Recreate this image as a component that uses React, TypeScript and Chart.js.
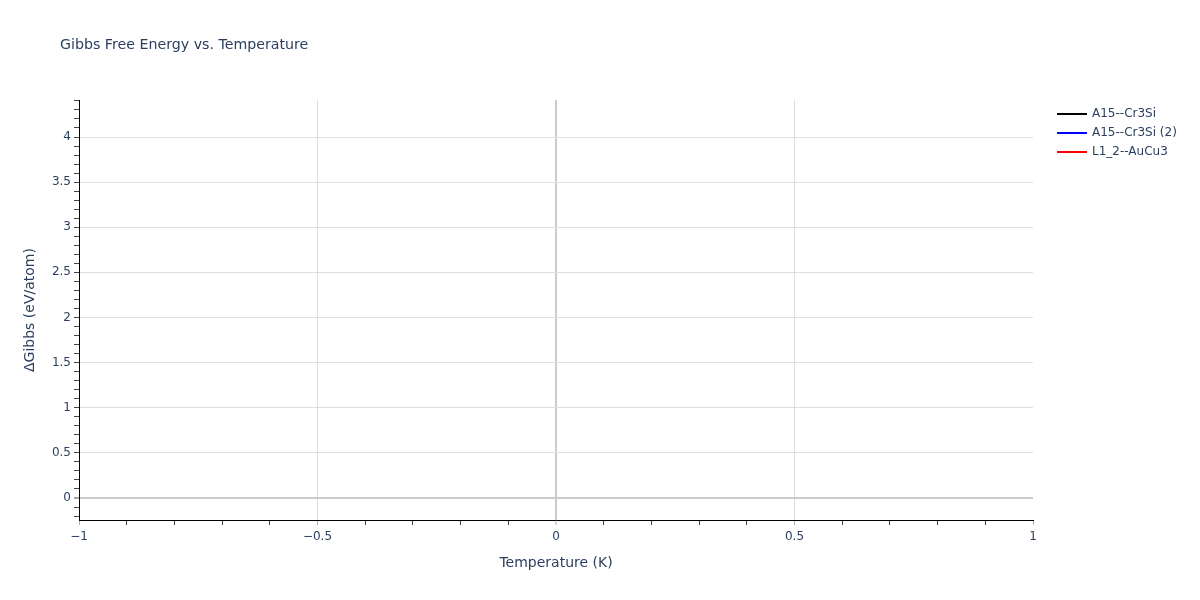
import React, { useEffect, useRef } from "react";
import { Chart, registerables } from "chart.js";

Chart.register(...registerables);

const seriesLabels = ["A15--Cr3Si", "A15--Cr3Si (2)", "L1_2--AuCu3"];
const seriesColors = ["#000000", "#0000ff", "#ff0000"];
const temperatures = [0];
const gibbsA15 = [0];
const gibbsA15b = [4.17];
const gibbsL12 = [0];

const xMin = -1;
const xMax = 1;
const yMin = -0.244;
const yMax = 4.41;

const FONT = '"DejaVu Sans", Verdana, sans-serif';
const TEXT = "#2a3f5f";

const isMajor = (v: number) => Math.abs(v / 0.5 - Math.round(v / 0.5)) < 1e-6;
const fmt = (v: number) => {
  const r = Math.round(v * 10) / 10;
  return r < 0 ? "\u2212" + Math.abs(r) : String(r);
};

const overlay = {
  id: "overlay",
  afterDraw(chart: Chart) {
    const ctx = chart.ctx;
    ctx.save();
    ctx.fillStyle = TEXT;
    ctx.textBaseline = "middle";
    ctx.font = `14.2px ${FONT}`;
    ctx.fillText("Gibbs Free Energy vs. Temperature", 60, 45);
    ctx.font = `12px ${FONT}`;
    chart.data.datasets.forEach((ds, i) => {
      const y = 114 + i * 19;
      ctx.strokeStyle = ds.borderColor as string;
      ctx.lineWidth = 2;
      ctx.beginPath();
      ctx.moveTo(1057, y);
      ctx.lineTo(1087, y);
      ctx.stroke();
      ctx.fillText(ds.label as string, 1092, y);
    });
    ctx.restore();
  },
};

export default function App() {
  const ref = useRef<HTMLCanvasElement | null>(null);
  useEffect(() => {
    document.body.style.margin = "0";
    if (!ref.current) return;
    const series = [gibbsA15, gibbsA15b, gibbsL12];
    const chart = new Chart(ref.current, {
      type: "line",
      data: {
        datasets: series.map((vals, i) => ({
          label: seriesLabels[i],
          data: temperatures.map((t, j) => ({ x: t, y: vals[j] })),
          borderColor: seriesColors[i],
          backgroundColor: seriesColors[i],
          borderWidth: 2,
          pointRadius: 0,
        })),
      },
      options: {
        animation: false,
        responsive: false,
        layout: { padding: { left: 0, right: 167, top: 100, bottom: 0 } },
        plugins: { legend: { display: false }, tooltip: { enabled: false } },
        scales: {
          x: {
            type: "linear",
            min: xMin,
            max: xMax,
            afterFit: (s: any) => {
              s.height = 80;
            },
            border: { display: true, color: "#000", width: 1 },
            grid: {
              color: (c: any) => {
                const v = c.tick?.value ?? 0;
                if (Math.abs(v) < 1e-6) return "#cccccc";
                if (Math.abs(Math.abs(v) - 1) < 1e-6) return "rgba(0,0,0,0)";
                return isMajor(v) ? "#dedede" : "rgba(0,0,0,0)";
              },
              lineWidth: (c: any) => (Math.abs(c.tick?.value ?? 1) < 1e-6 ? 2 : 1),
              tickColor: (c: any) => (isMajor(c.tick?.value ?? 0) ? "#b0b0b0" : "#444"),
              tickWidth: 1,
              tickLength: 5,
            },
            ticks: {
              stepSize: 0.1,
              autoSkip: false,
              maxRotation: 0,
              includeBounds: false,
              padding: 5,
              color: TEXT,
              font: { family: FONT, size: 12 },
              callback: (v: any) => (isMajor(Number(v)) ? fmt(Number(v)) : ""),
            },
            title: {
              display: true,
              text: "Temperature (K)",
              color: TEXT,
              font: { family: FONT, size: 14 },
              padding: { top: 0, bottom: 28.6 },
            },
          },
          y: {
            type: "linear",
            min: yMin,
            max: yMax,
            afterFit: (s: any) => {
              s.width = 79;
            },
            border: { display: true, color: "#000", width: 1 },
            grid: {
              color: (c: any) => {
                const v = c.tick?.value ?? 1;
                if (Math.abs(v) < 1e-6) return "#cccccc";
                return isMajor(v) ? "#dedede" : "rgba(0,0,0,0)";
              },
              lineWidth: (c: any) => (Math.abs(c.tick?.value ?? 1) < 1e-6 ? 2 : 1),
              tickColor: "#444",
              tickWidth: 1,
              tickLength: 5,
            },
            ticks: {
              stepSize: 0.1,
              autoSkip: false,
              includeBounds: false,
              padding: 3,
              color: TEXT,
              font: { family: FONT, size: 12 },
              callback: (v: any) => (isMajor(Number(v)) ? fmt(Number(v)) : ""),
            },
            title: {
              display: true,
              text: "\u0394Gibbs (eV/atom)",
              color: TEXT,
              font: { family: FONT, size: 14 },
              padding: { top: 21.6, bottom: 0 },
            },
          },
        },
      },
      plugins: [overlay],
    });
    return () => chart.destroy();
  }, []);
  return <canvas ref={ref} width={1200} height={600} style={{ display: "block" }} />;
}
